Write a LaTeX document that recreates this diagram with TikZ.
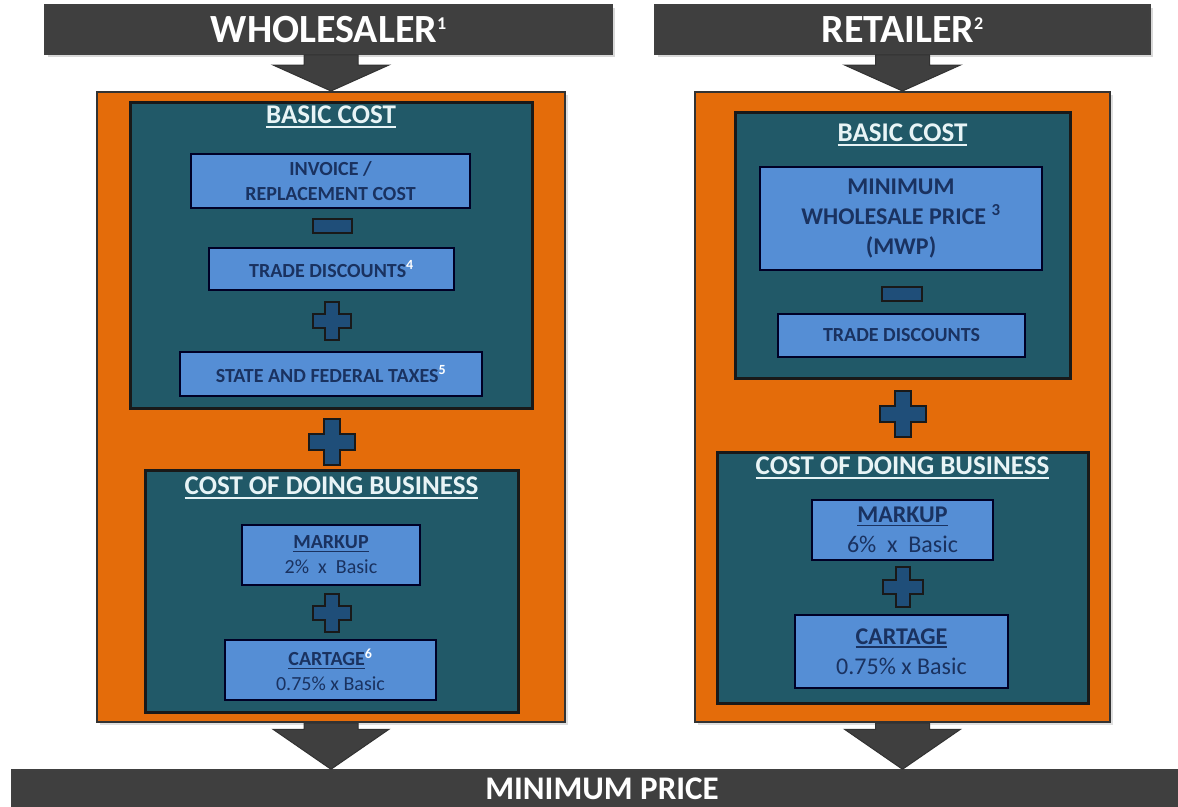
\documentclass[tikz,border=0pt]{standalone}
\usepackage{fontspec}
\setmainfont{Carlito}
\usetikzlibrary{shadows,calc}

\definecolor{bargray}{HTML}{3F3F3F}
\definecolor{boxorange}{HTML}{E46C0A}
\definecolor{boxteal}{HTML}{215968}
\definecolor{itemblue}{HTML}{558ED5}
\definecolor{signblue}{HTML}{1F4E79}
\definecolor{itemtext}{HTML}{1A3260}
\definecolor{titletext}{HTML}{E8F4F6}

% thick underline and small superscript
\newcommand{\thickul}[1]{\setbox0\hbox{#1}\rlap{\rule[-0.15em]{\wd0}{0.06em}}\box0}
\newcommand{\smallsup}[1]{\raisebox{0.32em}{\fontsize{18}{18}\selectfont #1}}

\begin{document}
\begin{tikzpicture}[x=1pt,y=-1pt,
    bar/.style={fill=bargray,draw=black!75,line width=1.5pt,text=white,inner sep=0pt,
        font=\fontsize{40}{44}\selectfont\bfseries,
        drop shadow={opacity=0.3,shadow xshift=3pt,shadow yshift=-3pt}},
    frame/.style={fill=boxorange,draw=black!80,line width=2pt,
        drop shadow={opacity=0.25,shadow xshift=3pt,shadow yshift=-3pt}},
    group/.style={fill=boxteal,draw=black!90,line width=3pt},
    grouptitle/.style={text=titletext,inner sep=0pt,font=\fontsize{27}{30}\selectfont\bfseries},
    item/.style={fill=itemblue,draw=black!85!blue,line width=2.5pt,text=itemtext,inner sep=0pt,
        align=center,font=\fontsize{20}{25}\selectfont\bfseries},
    bigitem/.style={item,font=\fontsize{24}{30}\selectfont\bfseries},
    sign/.style={fill=signblue,draw=black!90,line width=2.5pt},
    blockarrow/.style={fill=bargray,draw=bargray!80!black,line width=1pt}]

    \path[use as bounding box,fill=white] (0,0) rectangle (1178,806);

    %%%%%%% Barre %%%%%%%%
    \node[bar,minimum width=567pt,minimum height=49pt] (wbar) at (328.5,29.5) {WHOLESALER\smallsup{1}};
    \node[bar,minimum width=495pt,minimum height=49pt] (rbar) at (902.5,29.5) {RETAILER\smallsup{2}};
    \node[bar,minimum width=1180pt,minimum height=38pt,font=\fontsize{33}{36}\selectfont\bfseries] (minprice) at (602,789) {MINIMUM PRICE};

    %%%%%%% Cornici %%%%%%%%
    \node[frame,minimum width=468pt,minimum height=630pt] (wbox) at (331,407) {};
    \node[frame,minimum width=415pt,minimum height=630pt] (rbox) at (902.5,407) {};

    %%%%%%% Wholesaler: basic cost %%%%%%%%
    \node[group,minimum width=402pt,minimum height=306pt] (wbasic) at (331,255) {};
    \node[grouptitle] (wbasictitle) at (331,117) {\thickul{BASIC COST}};
    \node[item,minimum width=279pt,minimum height=54pt] (winvoice) at (330.5,181) {INVOICE /\\REPLACEMENT COST};
    \draw[sign] (313,219) rectangle (352,233);
    \node[item,minimum width=245pt,minimum height=42pt] (wtrade) at (331.5,269) {TRADE DISCOUNTS\textsuperscript{\color{white}4}};
    \node[item,minimum width=302pt,minimum height=44pt] (wtax) at (331,374) {STATE AND FEDERAL TAXES\textsuperscript{\color{white}5}};

    %%%%%%% Wholesaler: cost of doing business %%%%%%%%
    \node[group,minimum width=373pt,minimum height=242pt] (wcdb) at (331.5,591) {};
    \node[grouptitle] (wcdbtitle) at (331.5,488) {\thickul{COST OF DOING BUSINESS}};
    \node[item,minimum width=178pt,minimum height=60pt] (wmarkup) at (331,555) {\thickul{MARKUP}\\{\mdseries 2\%~ x~ Basic}};
    \node[item,minimum width=211pt,minimum height=60pt] (wcartage) at (330.5,670) {\thickul{CARTAGE}\textsuperscript{\color{white}6}\\{\mdseries 0.75\% x Basic}};

    %%%%%%% Retailer: basic cost %%%%%%%%
    \node[group,minimum width=335pt,minimum height=266pt] (rbasic) at (902.5,245) {};
    \node[grouptitle] (rbasictitle) at (902.5,135) {\thickul{BASIC COST}};
    \node[bigitem,minimum width=282pt,minimum height=103pt] (rmwp) at (901,218.5) {MINIMUM\\WHOLESALE PRICE \textsuperscript{3}\\(MWP)};
    \draw[sign] (882,287) rectangle (922,301);
    \node[item,minimum width=247pt,minimum height=43pt] (rtrade) at (901.5,335.5) {TRADE DISCOUNTS};

    %%%%%%% Retailer: cost of doing business %%%%%%%%
    \node[group,minimum width=371pt,minimum height=251pt] (rcdb) at (902.5,577.5) {};
    \node[grouptitle] (rcdbtitle) at (902.5,468) {\thickul{COST OF DOING BUSINESS}};
    \node[bigitem,minimum width=181pt,minimum height=60pt] (rmarkup) at (902.5,530) {\thickul{MARKUP}\\{\mdseries 6\%~ x~ Basic}};
    \node[bigitem,minimum width=213pt,minimum height=73pt] (rcartage) at (901.5,651.5) {\thickul{CARTAGE}\\{\mdseries 0.75\% x Basic}};

    %%%%%%% Segni piu %%%%%%%%
    \foreach \cx/\cy/\len/\wid in {332/321/19/7, 332/442/23/8, 332/613/19/7, 903/414/23/8, 903/587/20/7}
        \draw[sign] (\cx,\cy) ++(-\wid,-\len) -- ++({2*\wid},0) -- ++(0,{\len-\wid}) -- ++({\len-\wid},0)
            -- ++(0,{2*\wid}) -- ++({\wid-\len},0) -- ++(0,{\len-\wid}) -- ++({-2*\wid},0)
            -- ++(0,{\wid-\len}) -- ++({\wid-\len},0) -- ++(0,{-2*\wid}) -- ++({\len-\wid},0) -- cycle;

    %%%%%%% Frecce %%%%%%%%
    \draw[blockarrow] (wbox.north) -- ++(-58,-26) -- ++(31,0) |- (wbar.south)
        -| ($(wbox.north)+(27,-26)$) -- ++(31,0) -- cycle;
    \draw[blockarrow] (rbox.north) -- ++(-58,-26) -- ++(31,0) |- (rbar.south)
        -| ($(rbox.north)+(27,-26)$) -- ++(31,0) -- cycle;
    \draw[blockarrow] (minprice.north -| wbox.south) -- ++(-58,-40) -- ++(31,0) |- (wbox.south)
        -| ($(minprice.north -| wbox.south)+(27,-40)$) -- ++(31,0) -- cycle;
    \draw[blockarrow] (minprice.north -| rbox.south) -- ++(-58,-40) -- ++(31,0) |- (rbox.south)
        -| ($(minprice.north -| rbox.south)+(27,-40)$) -- ++(31,0) -- cycle;
\end{tikzpicture}
\end{document}
